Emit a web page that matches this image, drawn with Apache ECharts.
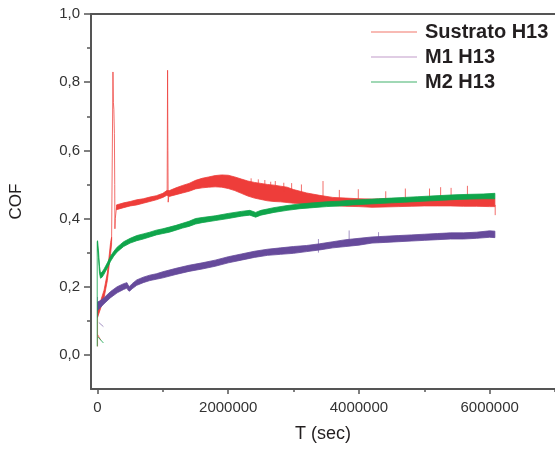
<!DOCTYPE html>
<html>
<head>
<meta charset="utf-8">
<script src="https://cdn.jsdelivr.net/npm/echarts@6/dist/echarts.min.js"></script>
<style>html,body{margin:0;padding:0;background:#fff}#c{width:555px;height:449px}</style>
</head>
<body>
<div id="c"></div>
<script>
// ---- data ----
const seriesNames = ['Sustrato H13', 'M1 H13', 'M2 H13'];
const xTickLabels = [0, 2000000, 4000000, 6000000];
const xMinorTicks = [1000000, 3000000, 5000000, 7000000];
const yTickLabels = [0, 0.2, 0.4, 0.6, 0.8, 1.0];
const yMinorTicks = [0.1, 0.3, 0.5, 0.7, 0.9];

// Sustrato H13 (red) noise band: [time, low, high]
const redBandA = [
  [0, 0.110, 0.130], [50000, 0.138, 0.160], [100000, 0.168, 0.190],
  [150000, 0.218, 0.240], [200000, 0.298, 0.330], [215000, 0.325, 0.345]
];
const redBandB = [
  [290000, 0.426, 0.440], [400000, 0.432, 0.446], [500000, 0.437, 0.450],
  [600000, 0.440, 0.455], [700000, 0.445, 0.458], [800000, 0.450, 0.463],
  [900000, 0.455, 0.467], [1000000, 0.462, 0.474], [1060000, 0.468, 0.482],
  [1100000, 0.465, 0.482], [1200000, 0.470, 0.490], [1300000, 0.475, 0.497],
  [1400000, 0.480, 0.503], [1500000, 0.487, 0.512], [1600000, 0.490, 0.518],
  [1700000, 0.492, 0.522], [1800000, 0.493, 0.526], [1900000, 0.492, 0.528],
  [2000000, 0.488, 0.527], [2100000, 0.482, 0.522], [2200000, 0.474, 0.516],
  [2300000, 0.466, 0.510], [2400000, 0.460, 0.506], [2500000, 0.456, 0.503],
  [2600000, 0.452, 0.500], [2700000, 0.450, 0.498], [2800000, 0.449, 0.495],
  [2900000, 0.447, 0.492], [3000000, 0.445, 0.485], [3200000, 0.443, 0.475],
  [3400000, 0.440, 0.468], [3600000, 0.438, 0.462], [3800000, 0.436, 0.460],
  [4000000, 0.435, 0.458], [4200000, 0.433, 0.457], [4400000, 0.434, 0.458],
  [4600000, 0.435, 0.458], [4800000, 0.436, 0.460], [5000000, 0.437, 0.460],
  [5200000, 0.437, 0.461], [5400000, 0.437, 0.460], [5600000, 0.436, 0.459],
  [5800000, 0.436, 0.460], [6000000, 0.435, 0.460], [6080000, 0.435, 0.458]
];
// red thin spikes (segments separated by null)
const redSpikes = [
  [0, 0.130], [0, 0.025], null,
  [215000, 0.335], [236000, 0.830], [243000, 0.740], [250000, 0.720], [258000, 0.650],
  [263000, 0.500], [266000, 0.370], [272000, 0.400], [290000, 0.433], null,
  [1065000, 0.476], [1072000, 0.835], [1077000, 0.600], [1081000, 0.448], [1092000, 0.470], null,
  [2350000, 0.500], [2350000, 0.518], null,
  [2460000, 0.495], [2460000, 0.515], null,
  [2560000, 0.490], [2560000, 0.513], null,
  [2650000, 0.485], [2650000, 0.508], null,
  [2720000, 0.485], [2720000, 0.510], null,
  [2850000, 0.480], [2850000, 0.505], null,
  [2970000, 0.480], [2970000, 0.504], null,
  [3120000, 0.470], [3120000, 0.500], null,
  [3450000, 0.460], [3450000, 0.510], null,
  [3700000, 0.455], [3700000, 0.484], null,
  [3990000, 0.455], [3990000, 0.486], null,
  [4410000, 0.455], [4410000, 0.480], null,
  [4710000, 0.455], [4710000, 0.488], null,
  [5080000, 0.455], [5080000, 0.488], null,
  [5250000, 0.455], [5250000, 0.492], null,
  [5410000, 0.455], [5410000, 0.490], null,
  [5660000, 0.455], [5660000, 0.496], null,
  [6085000, 0.440], [6085000, 0.410], null,
  [0, 0.060], [50000, 0.043]
];

// M1 H13 (purple) noise band
const purpleBand = [
  [0, 0.130, 0.155], [50000, 0.140, 0.160], [100000, 0.150, 0.168],
  [200000, 0.168, 0.186], [300000, 0.182, 0.200], [400000, 0.192, 0.209],
  [450000, 0.196, 0.212], [470000, 0.189, 0.204], [490000, 0.187, 0.201],
  [530000, 0.194, 0.209], [600000, 0.204, 0.220], [700000, 0.212, 0.228],
  [800000, 0.218, 0.234], [900000, 0.222, 0.238], [1000000, 0.226, 0.244],
  [1200000, 0.236, 0.254], [1400000, 0.245, 0.263], [1600000, 0.252, 0.270],
  [1800000, 0.260, 0.278], [2000000, 0.270, 0.288], [2200000, 0.278, 0.296],
  [2400000, 0.286, 0.304], [2600000, 0.292, 0.310], [2800000, 0.295, 0.314],
  [3000000, 0.298, 0.318], [3200000, 0.303, 0.321], [3400000, 0.308, 0.326],
  [3600000, 0.314, 0.332], [3800000, 0.318, 0.338], [4000000, 0.322, 0.342],
  [4200000, 0.328, 0.346], [4400000, 0.330, 0.348], [4600000, 0.332, 0.350],
  [4800000, 0.334, 0.352], [5000000, 0.336, 0.354], [5200000, 0.338, 0.356],
  [5400000, 0.340, 0.358], [5600000, 0.340, 0.358], [5800000, 0.342, 0.360],
  [6000000, 0.345, 0.364], [6080000, 0.344, 0.363]
];
const purpleThin = [
  [0, 0.110], [0, 0.170], null,
  [20000, 0.095], [90000, 0.083], null,
  [3850000, 0.330], [3850000, 0.365], null,
  [4300000, 0.330], [4300000, 0.360], null,
  [3380000, 0.300], [3380000, 0.340]
];

// M2 H13 (green) noise band
const greenBand = [
  [0, 0.312, 0.335], [15000, 0.285, 0.305], [30000, 0.240, 0.260],
  [45000, 0.225, 0.240], [70000, 0.228, 0.243], [100000, 0.237, 0.252],
  [150000, 0.255, 0.270], [200000, 0.275, 0.290], [250000, 0.290, 0.304],
  [300000, 0.302, 0.316], [350000, 0.310, 0.324], [400000, 0.318, 0.332],
  [500000, 0.328, 0.342], [600000, 0.335, 0.350], [700000, 0.340, 0.355],
  [800000, 0.346, 0.360], [900000, 0.352, 0.366], [1000000, 0.356, 0.370],
  [1100000, 0.360, 0.375], [1200000, 0.366, 0.380], [1300000, 0.372, 0.386],
  [1400000, 0.377, 0.392], [1500000, 0.384, 0.400], [1600000, 0.388, 0.403],
  [1800000, 0.394, 0.408], [2000000, 0.400, 0.415], [2200000, 0.407, 0.421],
  [2330000, 0.410, 0.424], [2420000, 0.404, 0.418], [2500000, 0.410, 0.424],
  [2700000, 0.418, 0.432], [2900000, 0.424, 0.438], [3100000, 0.429, 0.443],
  [3300000, 0.432, 0.446], [3500000, 0.435, 0.449], [3700000, 0.437, 0.451],
  [3900000, 0.440, 0.454], [4100000, 0.442, 0.456], [4300000, 0.444, 0.458],
  [4500000, 0.446, 0.460], [4700000, 0.448, 0.462], [4900000, 0.450, 0.464],
  [5100000, 0.452, 0.466], [5300000, 0.454, 0.468], [5500000, 0.456, 0.470],
  [5700000, 0.457, 0.471], [5900000, 0.458, 0.472], [6080000, 0.458, 0.474]
];
const greenThin = [
  [-5000, 0.025], [-5000, 0.333], null,
  [10000, 0.052], [90000, 0.035]
];

// ---- styling ----
const RED = '#ee3d3a', PURPLE = '#664a9b', GREEN = '#0fa54b';
const LEG = ['#f6a39b', '#d6bddb', '#80cb9d'];
const FONT = 'Liberation Sans, Arial, Helvetica, sans-serif';

function bandSeries(rows, color, z) {
  return {
    type: 'custom', z: z, silent: true,
    data: [[rows[0][0], rows[0][1]]],
    encode: { x: 0, y: 1 },
    renderItem: function (params, api) {
      const pts = [];
      for (let i = 0; i < rows.length; i++) pts.push(api.coord([rows[i][0], rows[i][2]]));
      for (let i = rows.length - 1; i >= 0; i--) pts.push(api.coord([rows[i][0], rows[i][1]]));
      return { type: 'polygon', shape: { points: pts },
        style: { fill: color, stroke: color, lineWidth: 0.8 } };
    }
  };
}
function thinSeries(data, color, width, z, opacity) {
  return { type: 'line', data: data, z: z, silent: true, symbol: 'none',
    connectNulls: false, animation: false,
    lineStyle: { color: color, width: width, opacity: opacity } };
}

const chart = echarts.init(document.getElementById('c'), null, { renderer: 'canvas' });
chart.setOption({
  animation: false,
  backgroundColor: '#fff',
  textStyle: { fontFamily: FONT },
  grid: { left: 90, right: 0, top: 14, bottom: 60, containLabel: false },
  legend: {
    orient: 'vertical', left: 366, top: 17, icon: 'rect',
    itemWidth: 46, itemHeight: 1.6, itemGap: 5,
    data: seriesNames.map((n, i) => ({ name: n, itemStyle: { color: LEG[i] } })),
    textStyle: { fontFamily: FONT, fontSize: 20, fontWeight: 'bold', color: '#231f20', lineHeight: 20,
      padding: [0, 0, 0, 3] }
  },
  xAxis: [
    { type: 'value', min: -100000, max: 7000000, position: 'bottom',
      name: 'T (sec)', nameLocation: 'middle', nameGap: 36,
      nameTextStyle: { fontFamily: FONT, fontSize: 18, color: '#231f20' },
      axisLine: { show: true, onZero: false, lineStyle: { color: '#555', width: 2 } },
      axisTick: { show: true, customValues: xTickLabels, length: 5, lineStyle: { color: '#555', width: 1.5 } },
      axisLabel: { customValues: xTickLabels, margin: 11, fontFamily: FONT, fontSize: 15, color: '#333',
        formatter: v => String(Math.round(v)) },
      splitLine: { show: false } },
    { type: 'value', min: -100000, max: 7000000, position: 'bottom',
      axisLine: { show: false, onZero: false },
      axisTick: { show: true, customValues: xMinorTicks, length: 3, lineStyle: { color: '#555', width: 1.5 } },
      axisLabel: { show: false }, splitLine: { show: false } },
    { type: 'value', min: -100000, max: 7000000, position: 'top',
      axisLine: { show: true, onZero: false, lineStyle: { color: '#555', width: 2 } },
      axisTick: { show: false }, axisLabel: { show: false }, splitLine: { show: false } }
  ],
  yAxis: [
    { type: 'value', min: -0.1, max: 1.0, position: 'left',
      name: 'COF', nameLocation: 'middle', nameGap: 66, nameRotate: 90,
      nameTextStyle: { fontFamily: FONT, fontSize: 17, color: '#231f20' },
      axisLine: { show: true, onZero: false, lineStyle: { color: '#555', width: 2 } },
      axisTick: { show: true, customValues: yTickLabels, length: 7, lineStyle: { color: '#555', width: 1.5 } },
      axisLabel: { customValues: yTickLabels, margin: 11, fontFamily: FONT, fontSize: 15, color: '#333',
        formatter: v => v.toFixed(1).replace('.', ',') },
      splitLine: { show: false } },
    { type: 'value', min: -0.1, max: 1.0, position: 'left',
      axisLine: { show: false, onZero: false },
      axisTick: { show: true, customValues: yMinorTicks, length: 4, lineStyle: { color: '#555', width: 1.5 } },
      axisLabel: { show: false }, splitLine: { show: false } }
  ],
  series: [
    // legend entries
    { name: seriesNames[0], type: 'line', data: [], symbol: 'none', lineStyle: { color: LEG[0] }, itemStyle: { color: LEG[0] } },
    { name: seriesNames[1], type: 'line', data: [], symbol: 'none', lineStyle: { color: LEG[1] }, itemStyle: { color: LEG[1] } },
    { name: seriesNames[2], type: 'line', data: [], symbol: 'none', lineStyle: { color: LEG[2] }, itemStyle: { color: LEG[2] } },
    // drawn data
    bandSeries(redBandA, RED, 2),
    bandSeries(redBandB, RED, 2),
    thinSeries(redSpikes, RED, 1, 2, 0.75),
    bandSeries(purpleBand, PURPLE, 3),
    thinSeries(purpleThin, PURPLE, 1, 3, 0.6),
    bandSeries(greenBand, GREEN, 4),
    thinSeries(greenThin, GREEN, 1, 4, 0.8)
  ]
});
</script>
</body>
</html>
